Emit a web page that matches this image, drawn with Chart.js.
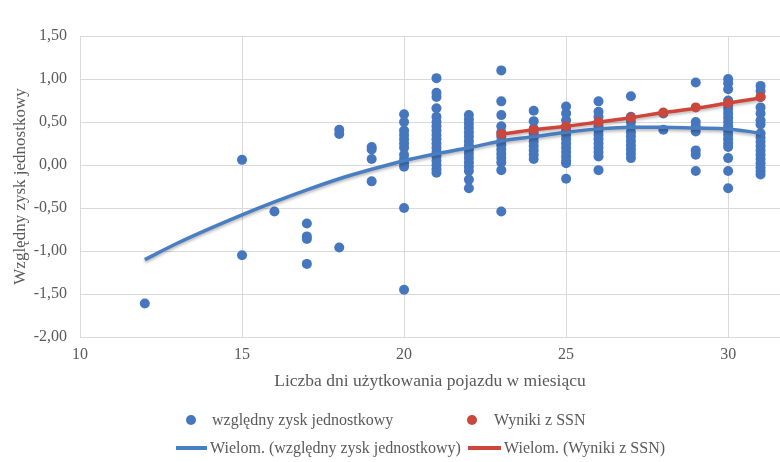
<!DOCTYPE html>
<html lang="pl">
<head>
<meta charset="utf-8">
<title>Względny zysk jednostkowy</title>
<script src="https://cdn.jsdelivr.net/npm/chart.js@4.4.1/dist/chart.umd.min.js"></script>
<style>
    html, body { margin: 0; padding: 0; background: #fff; }
    #wrap { position: relative; width: 780px; height: 462px; }
    #chart { position: absolute; left: 0; top: 0; }
    .leg { position: absolute; font-family: "Liberation Serif", "Times New Roman", serif; font-size: 16px; color: #595959; white-space: nowrap; line-height: 20px; }
    .dot { position: absolute; width: 10px; height: 10px; border-radius: 50%; }
    .bar { position: absolute; height: 4px; }
</style>
</head>
<body>
<div id="wrap">
    <canvas id="chart" width="780" height="462"></canvas>

    <span class="dot" style="left:186px; top:415px; background:#4677BE"></span>
    <span class="leg" style="left:212px; top:410px">względny zysk jednostkowy</span>
    <span class="dot" style="left:467px; top:415px; background:#C9473D"></span>
    <span class="leg" style="left:494px; top:410px">Wyniki z SSN</span>

    <span class="bar" style="left:176px; top:446px; width:31px; background:#4A7EC2"></span>
    <span class="leg" style="left:210px; top:438px">Wielom. (względny zysk jednostkowy)</span>
    <span class="bar" style="left:468px; top:446px; width:33px; background:#D0453A"></span>
    <span class="leg" style="left:504px; top:438px">Wielom. (Wyniki z SSN)</span>
</div>

<script>
// Liczba dni użytkowania -> zmierzone zyski (kolumny punktów)
const zyskDni = [12, 15, 16, 17, 18, 19, 20, 21, 22, 23, 24, 25, 26, 27, 28, 29, 30, 31];
const zyskWartosci = [
    [-1.61],
    [0.06, -1.05],
    [-0.54],
    [-0.68, -0.83, -0.86, -1.15],
    [0.41, 0.36, -0.96],
    [0.21, 0.18, 0.07, -0.19],
    [0.59, 0.5, 0.4, 0.35, 0.3, 0.25, 0.2, 0.12, 0.07, 0.02, -0.02, -0.5, -1.45],
    [1.01, 0.84, 0.79, 0.66, 0.56, 0.5, 0.45, 0.4, 0.35, 0.3, 0.25, 0.2, 0.15, 0.1, 0.05, 0.0, -0.05, -0.09],
    [0.58, 0.53, 0.48, 0.43, 0.38, 0.33, 0.28, 0.23, 0.18, 0.13, 0.08, 0.03, -0.02, -0.07, -0.17, -0.27],
    [1.1, 0.74, 0.58, 0.45, 0.38, 0.33, 0.28, 0.23, 0.18, 0.13, 0.08, 0.03, -0.06, -0.54],
    [0.63, 0.51, 0.42, 0.37, 0.32, 0.27, 0.22, 0.17, 0.12, 0.07],
    [0.68, 0.6, 0.52, 0.45, 0.4, 0.35, 0.3, 0.25, 0.2, 0.15, 0.1, 0.05, 0.02, -0.16],
    [0.74, 0.62, 0.56, 0.5, 0.45, 0.4, 0.35, 0.3, 0.25, 0.2, 0.15, 0.1, -0.06],
    [0.8, 0.56, 0.5, 0.44, 0.38, 0.33, 0.28, 0.23, 0.18, 0.13, 0.08],
    [0.6, 0.41],
    [0.96, 0.5, 0.45, 0.39, 0.17, 0.12, -0.07],
    [1.0, 0.95, 0.88, 0.75, 0.7, 0.65, 0.6, 0.55, 0.5, 0.45, 0.4, 0.35, 0.3, 0.25, 0.21, 0.08, -0.07, -0.27],
    [0.92, 0.86, 0.79, 0.67, 0.6, 0.52, 0.47, 0.37, 0.32, 0.27, 0.22, 0.17, 0.12, 0.07, 0.02, -0.03, -0.07, -0.11]
];

// Wyniki z sieci (SSN)
const ssnDni = [23, 24, 25, 26, 27, 28, 29, 30, 31];
const ssnWartosci = [0.36, 0.41, 0.45, 0.5, 0.55, 0.61, 0.67, 0.72, 0.79];

// Linie trendu wielomianowego
const trendZyskDni = [12, 13, 14, 15, 16, 17, 18, 19, 20, 21, 22, 23, 24, 25, 26, 27, 28, 29, 30, 31];
const trendZyskWartosci = [-1.1, -0.91, -0.74, -0.58, -0.43, -0.29, -0.16, -0.05, 0.05, 0.13, 0.2, 0.28, 0.33, 0.38, 0.42, 0.44, 0.44, 0.43, 0.42, 0.37];
const trendSsnDni = [23, 24, 25, 26, 27, 28, 29, 30, 31];
const trendSsnWartosci = [0.36, 0.41, 0.45, 0.5, 0.55, 0.61, 0.66, 0.72, 0.78];

const yTicks = [-2, -1.5, -1, -0.5, 0, 0.5, 1, 1.5];
const xTicks = [10, 15, 20, 25, 30];

const punktyZysk = [];
zyskDni.forEach((d, i) => {
    zyskWartosci[i].forEach(v => punktyZysk.push({ x: d, y: v }));
});
const toXY = (xs, ys) => xs.map((x, i) => ({ x: x, y: ys[i] }));

const textColor = '#595959';
const gridColor = '#D9D9D9';
const serif = '"Liberation Serif", "Times New Roman", serif';

// cień pod liniami trendu
const shadowPlugin = {
    id: 'trendShadow',
    beforeDatasetDraw(chart, args) {
        const ds = chart.data.datasets[args.index];
        if (!ds.trend) return;
        const ctx = chart.ctx;
        ctx.save();
        ctx.shadowColor = 'rgba(0,0,0,0.28)';
        ctx.shadowBlur = 3;
        ctx.shadowOffsetY = 2;
    },
    afterDatasetDraw(chart, args) {
        const ds = chart.data.datasets[args.index];
        if (ds.trend) chart.ctx.restore();
    }
};

new Chart(document.getElementById('chart'), {
    type: 'scatter',
    data: {
        datasets: [
            {
                label: 'względny zysk jednostkowy',
                data: punktyZysk,
                backgroundColor: '#4677BE',
                borderWidth: 0,
                pointRadius: 5,
                order: 4
            },
            {
                label: 'Wyniki z SSN',
                data: toXY(ssnDni, ssnWartosci),
                backgroundColor: '#C9473D',
                borderWidth: 0,
                pointRadius: 5,
                order: 1
            },
            {
                label: 'Wielom. (względny zysk jednostkowy)',
                type: 'line',
                data: toXY(trendZyskDni, trendZyskWartosci),
                borderColor: '#4A7EC2',
                borderWidth: 3.5,
                pointRadius: 0,
                tension: 0.4,
                cubicInterpolationMode: 'monotone',
                fill: false,
                trend: true,
                order: 3
            },
            {
                label: 'Wielom. (Wyniki z SSN)',
                type: 'line',
                data: toXY(trendSsnDni, trendSsnWartosci),
                borderColor: '#D0453A',
                borderWidth: 3.5,
                pointRadius: 0,
                tension: 0.3,
                fill: false,
                trend: true,
                order: 2
            }
        ]
    },
    options: {
        responsive: false,
        animation: false,
        layout: { autoPadding: false, padding: { left: 0, right: 0, top: 36, bottom: 70 } },
        plugins: {
            legend: { display: false },
            tooltip: { enabled: false }
        },
        scales: {
            x: {
                type: 'linear',
                min: 10,
                max: 31.6,
                afterBuildTicks: scale => { scale.ticks = xTicks.map(v => ({ value: v })); },
                afterFit: scale => {
                    scale.height = 55;
                    scale.paddingLeft = 0;
                    scale.paddingRight = 0;
                },
                grid: { color: gridColor, lineWidth: 1, drawTicks: false },
                border: { display: false },
                ticks: {
                    color: textColor,
                    font: { family: serif, size: 16 },
                    padding: 8,
                    maxRotation: 0
                },
                title: {
                    display: true,
                    text: 'Liczba dni użytkowania pojazdu w miesiącu',
                    color: textColor,
                    font: { family: serif, size: 17.5 },
                    padding: { top: 0, bottom: 0 }
                }
            },
            y: {
                min: -2,
                max: 1.5,
                afterBuildTicks: scale => { scale.ticks = yTicks.map(v => ({ value: v })); },
                afterFit: scale => {
                    scale.width = 80;
                    scale.paddingTop = 0;
                    scale.paddingBottom = 0;
                },
                grid: { color: gridColor, lineWidth: 1, drawTicks: false },
                border: { display: false },
                ticks: {
                    color: textColor,
                    font: { family: serif, size: 16 },
                    padding: 13,
                    callback: v => v.toFixed(2).replace('.', ',')
                },
                title: {
                    display: true,
                    text: 'Względny zysk jednostkowy',
                    color: textColor,
                    font: { family: serif, size: 17 },
                    padding: { top: 10, bottom: 0 }
                }
            }
        }
    },
    plugins: [shadowPlugin]
});
</script>
</body>
</html>
